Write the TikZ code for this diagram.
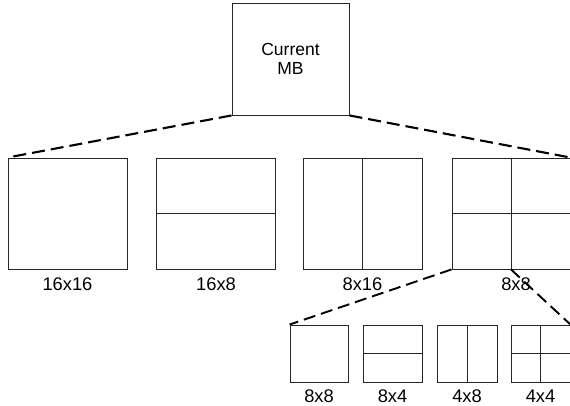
\documentclass[tikz,border=0pt]{standalone}
\usepackage{fontspec}
\setmainfont{Liberation Sans}
\begin{document}
\begin{tikzpicture}[x=1pt,y=-1pt,
  box/.style={draw=black!85, line width=0.9pt, inner sep=0pt, fill=white},
  bigbox/.style={box, minimum width=119pt, minimum height=111pt},
  smallbox/.style={box, minimum width=59pt, minimum height=57pt},
  divider/.style={draw=black!85, line width=0.9pt},
  lbl/.style={font=\fontsize{18.3}{19}\selectfont, inner sep=0pt},
  link/.style={draw=black, line width=2.1pt, dash pattern=on 13pt off 6pt},
  sublink/.style={draw=black, line width=1.9pt, dash pattern=on 12pt off 6pt}]
\useasboundingbox (0,0) rectangle (570,406);
% current MB
\node[box, minimum width=117pt, minimum height=112pt, align=center,
      font=\fontsize{17.5}{19}\selectfont] (mb) at (290.5,59) {Current\\MB};
% big row
\node[bigbox] (b1) at (67.5,213.5) {};
\node[bigbox] (b2) at (216,213.5) {};
\node[bigbox] (b3) at (362.5,213.5) {};
\node[bigbox, minimum width=118pt] (b4) at (511,213.5) {};
\draw[divider] (b2.west) -- (b2.east);
\draw[divider] (b3.north) -- (b3.south);
\draw[divider] (b4.west) -- (b4.east);
\draw[divider] (b4.north) -- (b4.south);
\node[lbl] (l1) at (67.5,284) {16x16};
\node[lbl] (l2) at (216,284) {16x8};
\node[lbl] (l3) at (362.5,284) {8x16};
\node[lbl] (l4) at (516,284) {8x8};
% small row
\node[smallbox, minimum width=58pt] (s1) at (319,353.5) {};
\node[smallbox] (s2) at (392.5,353.5) {};
\node[smallbox, minimum width=60pt] (s3) at (467,353.5) {};
\node[smallbox] (s4) at (540.5,353.5) {};
\draw[divider] (s2.west) -- (s2.east);
\draw[divider] (s3.north) -- (s3.south);
\draw[divider] (s4.west) -- (s4.east);
\draw[divider] (s4.north) -- (s4.south);
\node[lbl] (m1) at (319,396.5) {8x8};
\node[lbl] (m2) at (392.5,396.5) {8x4};
\node[lbl] (m3) at (467,396.5) {4x8};
\node[lbl] (m4) at (540.5,396.5) {4x4};
% connectors
\draw[link] (mb.south west) -- (b1.north west);
\draw[link] (mb.south east) -- (b4.north east);
\draw[sublink] (b4.south west) -- (s1.north west);
\draw[sublink] (b4.south) -- (s4.north east);
\end{tikzpicture}
\end{document}
